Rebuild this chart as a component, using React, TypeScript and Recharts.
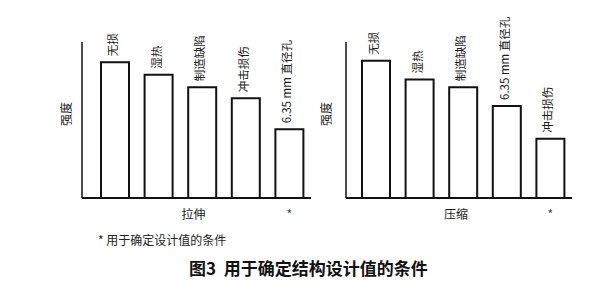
import React from 'react';
import { BarChart, Bar, XAxis, YAxis, LabelList } from 'recharts';

// 拉伸 (tension) panel
const tensionCategories = ['无损', '湿热', '制造缺陷', '冲击损伤', '6.35 mm 直径孔'];
const tensionStrength = [87, 79, 71, 64, 44];
const tensionDesignCase = '6.35 mm 直径孔';

// 压缩 (compression) panel
const compressionCategories = ['无损', '湿热', '制造缺陷', '6.35 mm 直径孔', '冲击损伤'];
const compressionStrength = [88, 76, 71, 59, 38];
const compressionDesignCase = '冲击损伤';

const strengthDomain = [0, 100];

const FONT = '"Noto Sans CJK SC", "Noto Sans", sans-serif';
const INK = '#1a1a1a';

function BarTopLabel(props: any) {
  const { x, y, width, value } = props;
  const cx = Number(x) + Number(width) / 2 - 3;
  const by = Number(y) - 6;
  return (
    <text
      x={cx}
      y={by}
      transform={`rotate(-90, ${cx}, ${by})`}
      textAnchor="start"
      dominantBaseline="central"
      fontSize={11.5}
      fill={INK}
      fontFamily={FONT}
    >
      {value}
    </text>
  );
}

function StarTick(props: any) {
  const { x, y, payload, star } = props;
  if (payload.value !== star) return null;
  return (
    <text x={x} y={y} textAnchor="middle" dominantBaseline="central" fontSize={12} fill="#444" fontFamily={FONT}>
      *
    </text>
  );
}

interface PanelProps {
  categories: string[];
  values: number[];
  star: string;
  xTitle: string;
  left: number;
  width: number;
  yAxisWidth: number;
  marginLeft: number;
  marginRight: number;
  padLeft: number;
}

function Panel({ categories, values, star, xTitle, left, width, yAxisWidth, marginLeft, marginRight, padLeft }: PanelProps) {
  const data = categories.map((name, i) => ({ name, value: values[i] }));
  return (
    <div style={{ position: 'absolute', left, top: 0 }}>
      <BarChart
        width={width}
        height={240}
        data={data}
        margin={{ top: 42, right: marginRight, bottom: 20, left: marginLeft }}
      >
        <XAxis
          dataKey="name"
          interval={0}
          tickLine={false}
          tickSize={0}
          tickMargin={15}
          height={22}
          padding={{ left: padLeft, right: 0 }}
          axisLine={{ stroke: '#111', strokeWidth: 2 }}
          tick={<StarTick star={star} />}
          label={(p: any) => (
            <text
              x={p.viewBox.x + p.viewBox.width / 2 - 3}
              y={p.viewBox.y + 15}
              textAnchor="middle"
              dominantBaseline="central"
              fontSize={12}
              fill={INK}
              fontFamily={FONT}
            >
              {xTitle}
            </text>
          )}
        />
        <YAxis
          type="number"
          domain={strengthDomain}
          tick={false}
          tickLine={false}
          width={yAxisWidth}
          axisLine={{ stroke: '#111', strokeWidth: 1.5 }}
          label={(p: any) => {
            const cx = p.viewBox.x + p.viewBox.width / 2;
            const cy = p.viewBox.y + p.viewBox.height / 2 - 6;
            return (
              <text
                x={cx}
                y={cy}
                transform={`rotate(-90, ${cx}, ${cy})`}
                textAnchor="middle"
                dominantBaseline="central"
                fontSize={12}
                fill={INK}
                fontFamily={FONT}
              >
                强度
              </text>
            );
          }}
        />
        <Bar dataKey="value" fill="#fff" stroke="#111" strokeWidth={2} barSize={28} isAnimationActive={false}>
          <LabelList dataKey="name" content={BarTopLabel} />
        </Bar>
      </BarChart>
    </div>
  );
}

export default function App() {
  return (
    <div
      style={{
        position: 'absolute',
        left: 0,
        top: 0,
        width: 600,
        height: 286,
        background: '#fff',
        overflow: 'hidden',
        fontFamily: FONT,
      }}
    >
      <Panel
        categories={tensionCategories}
        values={tensionStrength}
        star={tensionDesignCase}
        xTitle="拉伸"
        left={0}
        width={320}
        yAxisWidth={34}
        marginLeft={48}
        marginRight={9}
        padLeft={11}
      />
      <Panel
        categories={compressionCategories}
        values={compressionStrength}
        star={compressionDesignCase}
        xTitle="压缩"
        left={300}
        width={290}
        yAxisWidth={42}
        marginLeft={4}
        marginRight={18}
        padLeft={8}
      />
      <div style={{ position: 'absolute', left: 98, top: 232, fontSize: 12, lineHeight: '16px', color: '#222' }}>
        * 用于确定设计值的条件
      </div>
      <div
        style={{
          position: 'absolute',
          left: 189,
          top: 257,
          fontSize: 17,
          lineHeight: '22px',
          fontWeight: 700,
          color: '#111',
          whiteSpace: 'pre',
        }}
      >
        图3  用于确定结构设计值的条件
      </div>
    </div>
  );
}
